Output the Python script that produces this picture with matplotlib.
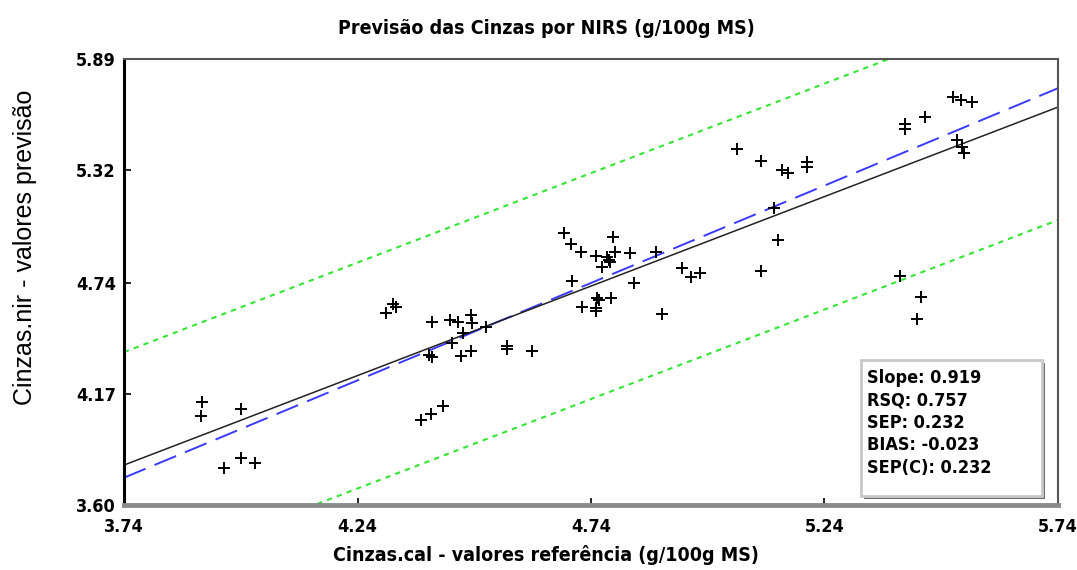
import numpy as np
import matplotlib
matplotlib.use("Agg")
import matplotlib.pyplot as plt
from matplotlib.patches import Rectangle

# valores
ref = [3.907, 3.905, 3.990, 3.990, 3.954, 4.020, 4.315, 4.323, 4.302, 4.400,
       4.439, 4.456, 4.484, 4.486, 4.516, 4.466, 4.443, 4.394, 4.400, 4.462,
       4.484, 4.561, 4.561, 4.614, 4.721, 4.753, 4.757, 4.751, 4.751, 4.783,
       4.832, 4.699, 4.682, 4.697, 4.719, 4.787, 4.791, 4.751, 4.774, 4.778,
       4.781, 4.764, 4.823, 4.879, 4.934, 4.954, 4.973, 4.892, 5.052, 5.105,
       5.150, 5.161, 5.202, 5.202, 5.131, 5.140, 5.105, 5.402, 5.447, 5.439,
       5.413, 5.413, 5.456, 5.516, 5.533, 5.556, 5.524, 5.535, 5.539, 4.375,
       4.398, 4.424]
nir = [4.129, 4.057, 4.093, 3.841, 3.790, 3.816, 4.632, 4.616, 4.586, 4.539,
       4.550, 4.539, 4.575, 4.534, 4.514, 4.483, 4.432, 4.370, 4.360, 4.365,
       4.391, 4.416, 4.401, 4.391, 4.616, 4.663, 4.652, 4.611, 4.596, 4.663,
       4.740, 4.750, 4.996, 4.940, 4.899, 4.976, 4.899, 4.878, 4.873, 4.858,
       4.847, 4.822, 4.894, 4.899, 4.817, 4.770, 4.791, 4.580, 5.428, 5.366,
       5.320, 5.304, 5.361, 5.335, 5.125, 4.960, 4.801, 4.776, 4.668, 4.555,
       5.556, 5.530, 5.592, 5.694, 5.679, 5.669, 5.474, 5.438, 5.407, 4.036,
       4.067, 4.108]

reg_slope = 0.919
reg_intercept = 0.368
limite = 0.58

xticks = [3.74, 4.24, 4.74, 5.24, 5.74]
yticks = [3.60, 4.17, 4.74, 5.32, 5.89]
stats = ["Slope: 0.919", "RSQ: 0.757", "SEP: 0.232", "BIAS: -0.023", "SEP(C): 0.232"]

cond = dict(family="DejaVu Sans", fontstretch="condensed", fontweight="bold")

W, H = 1077, 570
fig = plt.figure(figsize=(W / 100, H / 100), dpi=100)
ax = fig.add_axes([124 / W, 1 - 505 / H, (1058 - 124) / W, (505 - 59) / H])

xx = np.array([3.74, 5.74])
ax.plot(xx, xx, color="#3a3aff", lw=1.4, dashes=(12, 5))
ax.plot(xx, reg_intercept + reg_slope * xx, color="#222222", lw=1.1)
ax.plot(xx, reg_intercept + reg_slope * xx + limite, color="#33e633", lw=1.5, dashes=(2.5, 2.5))
ax.plot(xx, reg_intercept + reg_slope * xx - limite, color="#33e633", lw=1.5, dashes=(2.5, 2.5))
ax.plot(ref, nir, "+", color="black", ms=9, mew=1.4)

ax.set_xlim(3.74, 5.74)
ax.set_ylim(3.60, 5.89)
ax.set_xticks(xticks)
ax.set_yticks(yticks)
ax.set_xticklabels(["%.2f" % v for v in xticks], fontsize=13, **cond)
ax.set_yticklabels(["%.2f" % v for v in yticks], fontsize=13, **cond)
ax.tick_params(direction="in", length=5, width=1.2, colors="black")
ax.tick_params(axis="x", pad=9)
ax.tick_params(axis="y", pad=6)

ax.spines["left"].set_color("black")
ax.spines["left"].set_linewidth(2.2)
ax.spines["bottom"].set_color("#8a8a8a")
ax.spines["bottom"].set_linewidth(3.5)
ax.spines["top"].set_color("#555555")
ax.spines["top"].set_linewidth(1.5)
ax.spines["right"].set_color("#555555")
ax.spines["right"].set_linewidth(1.5)

fig.text(546 / W, 1 - 28 / H, "Previsão das Cinzas por NIRS (g/100g MS)",
         ha="center", va="center", fontsize=14, **cond)
fig.text(546 / W, 1 - 555 / H, "Cinzas.cal - valores referência (g/100g MS)",
         ha="center", va="center", fontsize=14, **cond)
fig.text(25 / W, 1 - 247 / H, "Cinzas.nir - valores previsão",
         ha="center", va="center", rotation=90, fontsize=18,
         family=["Liberation Sans", "DejaVu Sans"])

# caixa das estatisticas
fig.patches.append(Rectangle((864 / W, 1 - 499 / H), 181 / W, 136 / H,
                             transform=fig.transFigure, facecolor="#707070",
                             edgecolor="none", zorder=5))
fig.patches.append(Rectangle((861 / W, 1 - 496 / H), 181 / W, 136 / H,
                             transform=fig.transFigure, facecolor="white",
                             edgecolor="#c8c8c8", lw=2, zorder=6))
for i, s in enumerate(stats):
    fig.text(867 / W, 1 - (378 + 22.5 * i) / H, s, ha="left", va="center",
             fontsize=13, zorder=7, **cond)

fig.savefig("out.png", dpi=100)
